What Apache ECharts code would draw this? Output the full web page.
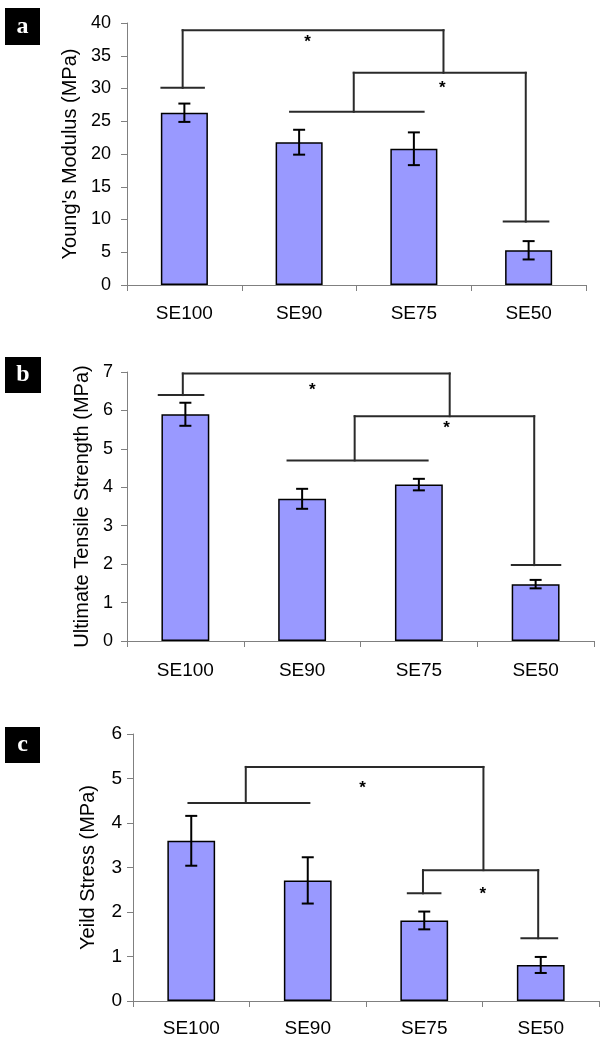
<!DOCTYPE html>
<html>
<head>
<meta charset="utf-8">
<script src="https://cdn.jsdelivr.net/npm/echarts@6/dist/echarts.min.js"></script>
<style>
html,body{margin:0;padding:0;background:#fff;}
#chart{width:608px;height:1045px;}
</style>
</head>
<body>
<div id="chart"></div>
<script>
// ---- data ----
const categories = ['SE100', 'SE90', 'SE75', 'SE50'];
const panelLetters = ['a', 'b', 'c'];
const yTitles = ["Young's Modulus (MPa)", 'Ultimate Tensile Strength (MPa)', 'Yeild Stress (MPa)'];
const yMax = [40, 7, 6];
const yInterval = [5, 1, 1];

const modulusMean = [26.3, 21.8, 20.8, 5.3];
const modulusErr = [1.4, 1.9, 2.5, 1.4];
const utsMean = [5.9, 3.7, 4.07, 1.48];
const utsErr = [0.3, 0.26, 0.15, 0.11];
const yieldMean = [3.6, 2.71, 1.81, 0.81];
const yieldErr = [0.56, 0.52, 0.2, 0.18];

// significance brackets: segments [x1, y1, x2, y2] in (category position 0..4, value)
const bracketsA = [
  [0.30, 30.1, 0.67, 30.1], [0.485, 30.1, 0.485, 38.9], [0.485, 38.9, 2.758, 38.9],
  [2.758, 38.9, 2.758, 32.4], [1.976, 32.4, 3.475, 32.4], [1.976, 32.4, 1.976, 26.45],
  [1.421, 26.45, 2.585, 26.45], [3.475, 32.4, 3.475, 9.68], [3.283, 9.68, 3.672, 9.68]
];
const starsA = [[1.574, 37.7], [2.748, 30.7]];
const bracketsB = [
  [0.272, 6.40, 0.654, 6.40], [0.478, 6.40, 0.478, 6.96], [0.478, 6.96, 2.764, 6.96],
  [2.764, 6.96, 2.764, 5.85], [1.950, 5.85, 3.488, 5.85], [1.950, 5.85, 1.950, 4.70],
  [1.375, 4.70, 2.575, 4.70], [3.488, 5.85, 3.488, 1.975], [3.296, 1.975, 3.711, 1.975]
];
const starsB = [[1.588, 6.63], [2.738, 5.63]];
const bracketsC = [
  [0.476, 4.45, 1.514, 4.45], [0.968, 4.45, 0.968, 5.26], [0.968, 5.26, 3.008, 5.26],
  [3.008, 5.26, 3.008, 2.94], [2.489, 2.94, 3.478, 2.94], [2.489, 2.94, 2.489, 2.42],
  [2.359, 2.42, 2.639, 2.42], [3.478, 2.94, 3.478, 1.41], [3.334, 1.41, 3.641, 1.41]
];
const starsC = [[1.970, 4.87], [3.002, 2.49]];

// ---- layout ----
const means = [modulusMean, utsMean, yieldMean];
const errs = [modulusErr, utsErr, yieldErr];
const brackets = [bracketsA, bracketsB, bracketsC];
const stars = [starsA, starsB, starsC];
const grids = [
  {left: 127, top: 23, width: 459, height: 262},
  {left: 127, top: 372, width: 467, height: 269},
  {left: 133, top: 734, width: 466, height: 267}
];
const nameGaps = [44, 33, 35];
const yLabelMargins = [16, 14, 11];
const xLabelMargins = [19, 20, 18];
const yTickFont = [18, 18, 19];
const xTickFont = [19, 19, 19];
const boxes = [[5, 8, 35, 37], [5, 357, 36, 36], [5, 727, 35, 36]];
const FONT = 'Liberation Sans, Arial, sans-serif';

const chart = echarts.init(document.getElementById('chart'), null, {renderer: 'canvas'});
const xAxes = [], yAxes = [], series = [], graphics = [];

for (let p = 0; p < 3; p++) {
  xAxes.push({
    type: 'category', gridIndex: p, data: categories,
    axisLine: {lineStyle: {color: '#808080', width: 1}},
    axisTick: {show: true, length: 6, lineStyle: {color: '#808080'}},
    axisLabel: {color: '#000', fontFamily: FONT, fontSize: xTickFont[p], margin: xLabelMargins[p]}
  });
  xAxes.push({type: 'value', gridIndex: p, min: 0, max: 4, show: false});
  yAxes.push({
    type: 'value', gridIndex: p, min: 0, max: yMax[p], interval: yInterval[p],
    name: yTitles[p], nameLocation: 'middle', nameGap: nameGaps[p],
    nameTextStyle: {color: '#000', fontFamily: FONT, fontSize: 20},
    axisLine: {show: true, lineStyle: {color: '#808080', width: 1}},
    axisTick: {show: true, length: 6, lineStyle: {color: '#808080'}},
    axisLabel: {color: '#000', fontFamily: FONT, fontSize: yTickFont[p], margin: yLabelMargins[p]},
    splitLine: {show: false}
  });
  series.push({
    type: 'bar', xAxisIndex: 2 * p, yAxisIndex: p, data: means[p], barWidth: '41%',
    itemStyle: {color: '#9999FF', borderColor: '#000', borderWidth: 1.5}
  });
  series.push({
    type: 'custom', xAxisIndex: 2 * p, yAxisIndex: p,
    data: means[p].map((m, i) => [i, m - errs[p][i], m + errs[p][i]]),
    renderItem: function (params, api) {
      const lo = api.coord([api.value(0), api.value(1)]);
      const hi = api.coord([api.value(0), api.value(2)]);
      const cw = 6, st = {stroke: '#000', lineWidth: 2};
      return {type: 'group', children: [
        {type: 'line', shape: {x1: lo[0], y1: lo[1], x2: hi[0], y2: hi[1]}, style: st},
        {type: 'line', shape: {x1: hi[0] - cw, y1: hi[1], x2: hi[0] + cw, y2: hi[1]}, style: st},
        {type: 'line', shape: {x1: lo[0] - cw, y1: lo[1], x2: lo[0] + cw, y2: lo[1]}, style: st}
      ]};
    },
    z: 5
  });
  series.push({
    type: 'custom', xAxisIndex: 2 * p + 1, yAxisIndex: p, data: brackets[p],
    encode: {x: [0, 2], y: [1, 3]}, clip: false,
    renderItem: function (params, api) {
      const a = api.coord([api.value(0), api.value(1)]);
      const b = api.coord([api.value(2), api.value(3)]);
      return {type: 'line', shape: {x1: a[0], y1: a[1], x2: b[0], y2: b[1]},
        style: {stroke: '#2a2a2a', lineWidth: 2, lineCap: 'square'}};
    },
    z: 6
  });
  series.push({
    type: 'custom', xAxisIndex: 2 * p + 1, yAxisIndex: p, data: stars[p], clip: false,
    renderItem: function (params, api) {
      const c = api.coord([api.value(0), api.value(1)]);
      return {type: 'text', x: c[0], y: c[1] + 4,
        style: {text: '*', align: 'center', verticalAlign: 'middle', fill: '#000',
          font: 'bold 17px Liberation Sans, Arial, sans-serif'}};
    },
    z: 7
  });
  const bx = boxes[p];
  graphics.push({type: 'rect', left: bx[0], top: bx[1], shape: {width: bx[2], height: bx[3]},
    style: {fill: '#000'}});
  graphics.push({type: 'text', x: bx[0] + bx[2] / 2, y: bx[1] + bx[3] / 2,
    style: {text: panelLetters[p], fill: '#fff', align: 'center', verticalAlign: 'middle',
      font: 'bold 24px Liberation Serif, Times New Roman, serif'}});
}

chart.setOption({
  animation: false,
  backgroundColor: '#fff',
  grid: grids,
  xAxis: xAxes,
  yAxis: yAxes,
  series: series,
  graphic: graphics
});
</script>
</body>
</html>
